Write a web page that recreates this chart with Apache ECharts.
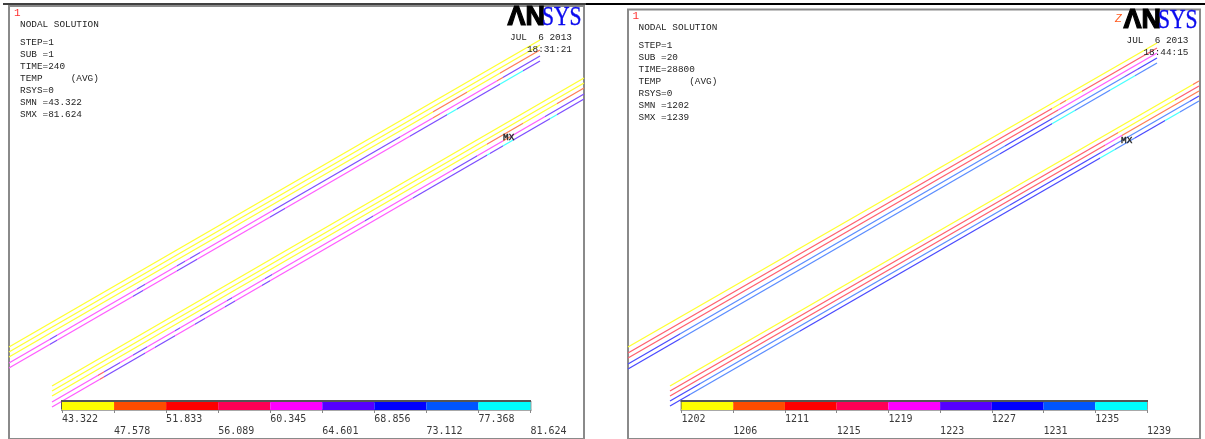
<!DOCTYPE html>
<html><head><meta charset="utf-8"><style>html,body{margin:0;padding:0;background:#fff}#c{width:1205px;height:439px}</style>
<script src="https://cdn.jsdelivr.net/npm/echarts@6/dist/echarts.min.js"></script></head>
<body><div id="c"></div><script>
// contour band colours
const bandColors = ['#ffff00','#ff4c00','#ff0000','#ff0055','#ff00ff','#5500ff','#0000ff','#0055ff','#00ffff'];
const leftTicks = ['43.322','47.578','51.833','56.089','60.345','64.601','68.856','73.112','77.368','81.624'];
const rightTicks = ['1202','1206','1211','1215','1219','1223','1227','1231','1235','1239'];
const leftInfo = ['NODAL SOLUTION','STEP=1','SUB =1','TIME=240','TEMP     (AVG)','RSYS=0','SMN =43.322','SMX =81.624'];
const rightInfo = ['NODAL SOLUTION','STEP=1','SUB =20','TIME=28800','TEMP     (AVG)','RSYS=0','SMN =1202','SMX =1239'];

// faded screen colours of the contour lines
const C = {Y:'#ffff30',O:'#ff7d55',R:'#ff5f6e',M:'#ff5cff',P:'#7d4dff',B:'#4a4aff',L:'#5a8cff',A:'#45ffff'};

// line end points [x0,y0,x1,y1], read in screen units
const leftUpper = [[9,347,540,40],[9,352,540,45],[9,357,540,50],[9,363,540,56],[9,368,540,61]];
const leftLower = [[52,386,584,78],[52,391,584,83],[52,396,584,88],[52,402,584,94],[52,407,584,99]];
const rightUpper = [[628,347,1157,43],[628,353,1157,48],[628,358,1157,53],[628,364,1157,58],[628,369,1157,63]];
const rightLower = [[670,386,1199,81],[670,391,1199,86],[670,396,1199,91],[670,401,1199,96],[670,406,1199,101]];

// colour runs along each line: [run end x, colour key]
const leftUpperRuns = [
 [[540,'Y']],
 [[540,'Y']],
 [[433,'Y'],[467,'O'],[500,'Y'],[540,'O']],
 [[50,'M'],[57,'P'],[137,'M'],[145,'P'],[177,'M'],[185,'P'],[190,'M'],[200,'P'],[273,'M'],[400,'P'],[433,'M'],[440,'O'],[497,'M'],[503,'O'],[540,'P']],
 [[50,'M'],[57,'P'],[133,'M'],[143,'P'],[177,'M'],[197,'P'],[270,'M'],[285,'P'],[410,'M'],[447,'P'],[457,'A'],[500,'P'],[523,'A'],[540,'P']]
];
const leftLowerRuns = [
 [[584,'Y']],
 [[584,'Y']],
 [[487,'Y'],[523,'O'],[557,'Y'],[584,'O']],
 [[98,'M'],[104,'R'],[120,'P'],[133,'M'],[147,'P'],[175,'M'],[180,'P'],[200,'M'],[210,'P'],[227,'M'],[232,'P'],[265,'M'],[272,'P'],[365,'M'],[373,'P'],[453,'M'],[477,'P'],[503,'M'],[510,'O'],[545,'M'],[584,'P']],
 [[100,'M'],[104,'R'],[145,'P'],[155,'M'],[175,'P'],[195,'M'],[205,'P'],[225,'M'],[235,'P'],[262,'M'],[270,'P'],[413,'M'],[487,'P'],[490,'A'],[503,'P'],[513,'A'],[550,'P'],[557,'A'],[584,'P']]
];
const rightUpperRuns = [
 [[1157,'Y']],
 [[1052,'R'],[1060,'Y'],[1066,'O'],[1082,'Y'],[1157,'R']],
 [[1058,'R'],[1157,'M']],
 [[680,'B'],[1005,'L'],[1052,'B'],[1125,'L'],[1138,'P'],[1157,'B']],
 [[680,'B'],[1000,'L'],[1052,'B'],[1075,'A'],[1110,'L'],[1135,'A'],[1157,'L']]
];
const rightLowerRuns = [
 [[1193,'Y'],[1199,'O']],
 [[1105,'R'],[1118,'O'],[1175,'Y'],[1199,'R']],
 [[1105,'R'],[1122,'M'],[1199,'O']],
 [[700,'B'],[1010,'L'],[1100,'B'],[1115,'P'],[1190,'L'],[1199,'B']],
 [[690,'B'],[800,'L'],[1100,'B'],[1115,'A'],[1135,'L'],[1165,'B'],[1180,'A'],[1199,'L']]
];

const panels = [
 {x:9, y:6, w:575, bar:[62,402,468.5], ticks:leftTicks, sets:[[leftUpper,leftUpperRuns],[leftLower,leftLowerRuns]]},
 {x:628, y:9.5, w:572, bar:[681.5,402,465.5], ticks:rightTicks, sets:[[rightUpper,rightUpperRuns],[rightLower,rightLowerRuns]]}
];
const grids=[],xAxes=[],yAxes=[],series=[],visualMaps=[];
panels.forEach(p=>{
  const g=grids.length;
  grids.push({left:p.x,top:p.y,width:p.w,height:439-p.y,outerBoundsMode:'none',show:true,borderColor:'#8a8a8a',borderWidth:2,backgroundColor:'#fff'});
  xAxes.push({gridIndex:g,type:'value',min:p.x,max:p.x+p.w,show:false});
  yAxes.push({gridIndex:g,type:'value',min:p.y,max:439,inverse:true,show:false});
  p.sets.forEach(([lines,runs])=>lines.forEach((l,i)=>{
    let from=0;
    visualMaps.push({type:'piecewise',show:false,dimension:0,seriesIndex:series.length,
      pieces:runs[i].map(([end,k])=>{const o={gte:from,lt:end+(end===l[2]?1:0),color:C[k]};from=end;return o;})});
    series.push({type:'line',xAxisIndex:g,yAxisIndex:g,silent:true,showSymbol:false,symbol:'none',lineStyle:{width:1.3},
      data:[[l[0],l[1]],[l[2],l[3]]],z:3});
  }));
  const b=grids.length;
  grids.push({left:p.bar[0],top:p.bar[1],width:p.bar[2],height:8,outerBoundsMode:'none',show:true,borderColor:'#9a9a9a',borderWidth:2});
  xAxes.push({gridIndex:b,type:'value',min:0,max:9,interval:1,position:'bottom',
    axisLine:{show:true,onZero:false,lineStyle:{color:'#a8a8a8',width:2}},
    axisTick:{show:true,length:3,lineStyle:{color:'#888',width:1}},splitLine:{show:false},
    axisLabel:{show:true,hideOverlap:false,showMinLabel:true,showMaxLabel:true,margin:3,align:'left',verticalAlign:'top',
      fontFamily:'DejaVu Sans Mono',fontSize:10,color:'#3a3a3a',lineHeight:12,
      formatter:(v)=>(v%2?'\n':'')+p.ticks[v]}});
  yAxes.push({gridIndex:b,type:'category',data:['bar'],axisLine:{show:true,onZero:false,lineStyle:{color:'#555',width:2}},axisTick:{show:false},axisLabel:{show:false}});
  bandColors.forEach((c,i)=>series.push({type:'bar',xAxisIndex:b,yAxisIndex:b,stack:'bar'+b,barWidth:'100%',silent:true,data:[1],itemStyle:{color:c},z:2}));
});
const txt=(x,y,s,o={})=>({type:'text',x,y,silent:true,z:20,scaleX:o.sx||1,style:Object.assign({text:s,fontFamily:'Liberation Mono',fontSize:9.4,fill:'#262626',textAlign:'left',textVerticalAlign:'middle'},o.st||{})});
const infoY=[25,43,55,67,79,91,103,115];
const logo=(x,y)=>[
  txt(x,y,'\u039BN',{st:{fontFamily:'Liberation Sans',fontWeight:'bold',fontSize:27,fill:'#000',stroke:'#000',lineWidth:1.2}}),
  txt(x+34.5,y,'SYS',{sx:.8,st:{fontFamily:'Liberation Serif',fontSize:27,fill:'#0a0aee',stroke:'#0a0aee',lineWidth:.4}})
];
const graphic=[
  {type:'line',silent:true,z:20,shape:{x1:3,y1:4,x2:586,y2:4},style:{stroke:'#000',lineWidth:1.5}},
  {type:'line',silent:true,z:20,shape:{x1:586,y1:4,x2:1205,y2:4},style:{stroke:'#000',lineWidth:2}},
  // bevel along the top of the colour keys
  {type:'line',silent:true,z:20,shape:{x1:61,y1:401,x2:531,y2:401},style:{stroke:'#555',lineWidth:2}},
  {type:'line',silent:true,z:20,shape:{x1:680.5,y1:401,x2:1148,y2:401},style:{stroke:'#555',lineWidth:2}},
  txt(14,13,'1',{st:{fontSize:11,fill:'#ff3030'}}),
  txt(632.5,16.5,'1',{st:{fontSize:11,fill:'#ff3030'}}),
  ...leftInfo.map((s,i)=>txt(20,infoY[i],s)),
  ...rightInfo.map((s,i)=>txt(638.5,infoY[i]+2.5,s)),
  txt(572,38,'JUL  6 2013',{st:{textAlign:'right'}}),
  txt(572,50,'18:31:21',{st:{textAlign:'right'}}),
  txt(1188.5,40.5,'JUL  6 2013',{st:{textAlign:'right'}}),
  txt(1188.5,52.5,'18:44:15',{st:{textAlign:'right'}}),
  txt(503,138,'MX',{st:{stroke:'#262626',lineWidth:.4}}),
  txt(1121,140.5,'MX',{st:{stroke:'#262626',lineWidth:.4}}),
  ...logo(507.5,17.5),
  ...logo(1123.5,21),
  txt(1115,19,'Z',{st:{fontFamily:'Liberation Sans',fontStyle:'italic',fontSize:11,fill:'#ff5a1e'}})
];
const chart=echarts.init(document.getElementById('c'),null,{renderer:'canvas'});
chart.setOption({animation:false,backgroundColor:'#fff',tooltip:{show:false},grid:grids,xAxis:xAxes,yAxis:yAxes,visualMap:visualMaps,series,graphic});
</script></body></html>
